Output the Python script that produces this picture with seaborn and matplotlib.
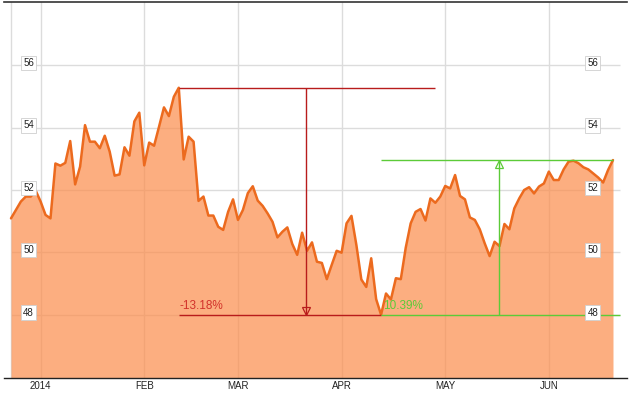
import matplotlib
matplotlib.use("Agg")
import matplotlib.pyplot as plt
import matplotlib.transforms as mtransforms
import seaborn as sns
import numpy as np
import pandas as pd

# ---- data (one value per trading day) ----
prices = [
    51.09, 51.36, 51.63, 51.79, 51.79, 51.98, 51.63, 51.20, 51.09, 52.85,
    52.78, 52.87, 53.57, 52.18, 52.75, 54.08, 53.55, 53.55, 53.34, 53.74,
    53.23, 52.46, 52.50, 53.37, 53.10, 54.20, 54.48, 52.79, 53.52, 53.42,
    54.03, 54.65, 54.37, 54.99, 55.28, 52.98, 53.71, 53.55, 51.65, 51.79,
    51.18, 51.18, 50.82, 50.72, 51.30, 51.70, 51.04, 51.36, 51.90, 52.12,
    51.66, 51.49, 51.25, 50.98, 50.48, 50.66, 50.80, 50.27, 49.92, 50.63,
    50.05, 50.32, 49.70, 49.66, 49.14, 49.60, 50.05, 49.99, 50.93, 51.17,
    50.23, 49.13, 48.89, 49.81, 48.50, 48.00, 48.68, 48.49, 49.17, 49.14,
    50.15, 50.93, 51.30, 51.39, 51.02, 51.73, 51.59, 51.79, 52.13, 52.05,
    52.48, 51.81, 51.70, 51.12, 51.04, 50.74, 50.29, 49.88, 50.34, 50.20,
    50.91, 50.74, 51.41, 51.73, 52.00, 52.09, 51.89, 52.11, 52.21, 52.59,
    52.32, 52.32, 52.66, 52.91, 52.94, 52.86, 52.73, 52.66, 52.53, 52.40,
    52.24, 52.64, 52.96,
]
month_labels = ["2014", "FEB", "MAR", "APR", "MAY", "JUN"]
month_index = [6, 27, 46, 67, 88, 109]
ytick_values = [48, 50, 52, 54, 56]
drop_label = "-13.18%"
rise_label = "10.39%"

sns.set_theme(style="white")
plt.rcParams["font.family"] = ["Liberation Sans", "DejaVu Sans"]

df = pd.DataFrame({"day": np.arange(len(prices)), "price": prices})

W, H = 632, 394
fig = plt.figure(figsize=(W / 100, H / 100), dpi=100)
ax = fig.add_axes([4 / W, 1 - 378 / H, 623 / W, 376 / H])
ymin, ymax = 45.97, 58.03
ax.set_xlim(-1.42, 124.84)
ax.set_ylim(ymin, ymax)

grid_color = "#dcdcdc"
x_grid_end = 123.4
for v in ytick_values:
    ax.hlines(v, 0, x_grid_end, color=grid_color, lw=1, zorder=0)
for m in [0] + month_index:
    ax.axvline(m, color=grid_color, lw=1, zorder=0)

ax.fill_between(df["day"], df["price"], ymin, color="#FB8F4F", alpha=0.72,
                lw=0, zorder=1)
sns.lineplot(data=df, x="day", y="price", color="#EC6A1E", lw=1.8, ax=ax,
             zorder=3)

# ---- drawdown / rebound annotations ----
p = np.asarray(prices)
peak_i = int(np.argmax(p))
peak = p[peak_i]
trough_i = peak_i + int(np.argmin(p[peak_i:]))
trough = p[trough_i]
last_i = len(p) - 1
last = p[last_i]

red = "#B81C1C"
red_txt = "#D2332B"
green = "#5CCB38"
ax.hlines(peak, peak_i, 86, color=red, lw=1, zorder=4)
ax.hlines(trough, peak_i, trough_i, color=red, lw=1, zorder=4)
ax.vlines(59.8, trough, peak, color=red, lw=1, zorder=4)
ax.plot([59.8], [trough + 0.12], marker="v", ms=6, mfc="none", mec=red,
        mew=0.9, zorder=5)
ax.text(peak_i + 0.1, trough + 0.17, drop_label, color=red_txt, fontsize=8.5,
        ha="left", va="baseline", zorder=6)

ax.hlines(last, trough_i, last_i, color=green, lw=1, zorder=4)
ax.hlines(trough, trough_i, x_grid_end, color=green, lw=1, zorder=4)
ax.vlines(98.8, trough, last, color=green, lw=1, zorder=4)
ax.plot([98.8], [last - 0.12], marker="^", ms=6, mfc="none", mec=green,
        mew=0.9, zorder=5)
ax.text(trough_i + 0.4, trough + 0.17, rise_label, color=green, fontsize=8.5,
        ha="left", va="baseline", zorder=6)

# ---- y labels in small boxes on both sides ----
blend = mtransforms.blended_transform_factory(ax.transAxes, ax.transData)
for v in ytick_values:
    for xa in (0.0396, 0.945):
        ax.text(xa, v + 0.07, str(v), transform=blend, ha="center",
                va="center", fontsize=7, color="#222222", zorder=7,
                bbox=dict(boxstyle="square,pad=0.22", fc="white",
                          ec="#cfcfcf", lw=0.6))

ax.set_xticks(month_index, month_labels)
ax.set_yticks([])
ax.tick_params(axis="x", length=0, pad=2.5, labelsize=7, colors="#222222")
ax.set_xlabel("")
ax.set_ylabel("")
for s in ("left", "right"):
    ax.spines[s].set_visible(False)
ax.spines["top"].set_color("#333333")
ax.spines["top"].set_linewidth(1.2)
ax.spines["bottom"].set_color("#222222")
ax.spines["bottom"].set_linewidth(1.0)

fig.savefig("out.png", dpi=100)
